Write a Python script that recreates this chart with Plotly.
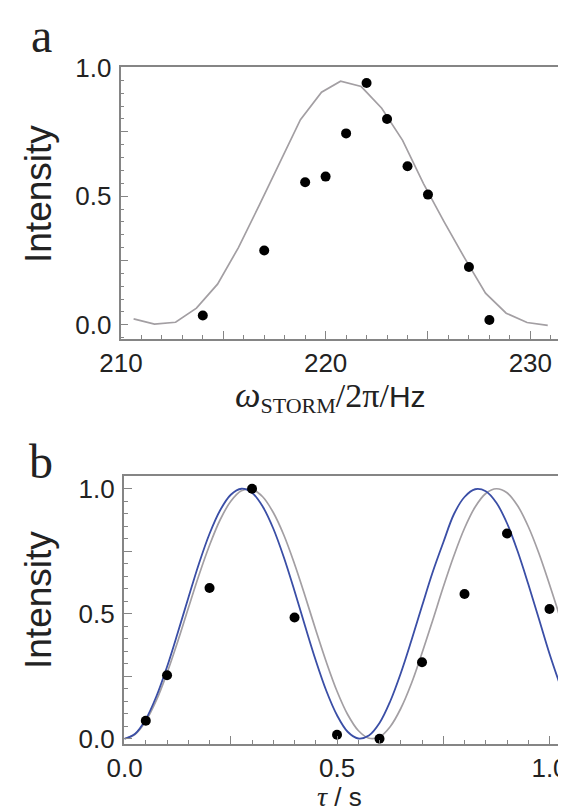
import plotly.graph_objects as go

# ---------------- Panel a data ----------------
omega_pts = [214, 217, 219, 220, 221, 222, 223, 224, 225, 227, 228]
intensity_a = [0.036, 0.289, 0.554, 0.576, 0.744, 0.94, 0.80, 0.616, 0.506, 0.225, 0.019]

omega_curve = [210.62, 211.64, 212.67, 213.69, 214.72, 215.74, 216.76, 217.77, 218.77,
               219.80, 220.73, 221.74, 222.74, 223.76, 224.78, 225.79, 226.80, 227.81,
               228.82, 229.84, 230.85]
curve_a = [0.023, 0.003, 0.010, 0.065, 0.158, 0.30, 0.465, 0.633, 0.797, 0.904, 0.947,
           0.926, 0.842, 0.717, 0.549, 0.40, 0.258, 0.123, 0.045, 0.009, -0.002]

# ---------------- Panel b data ----------------
tau_pts = [0.05, 0.1, 0.2, 0.3, 0.4, 0.5, 0.6, 0.7, 0.8, 0.9, 1.0]
intensity_b = [0.072, 0.254, 0.603, 1.0, 0.485, 0.016, 0.0, 0.306, 0.579, 0.821, 0.519]

tau_curve = [0.0, 0.025, 0.05, 0.075, 0.1, 0.125, 0.15, 0.175, 0.2, 0.225, 0.25, 0.275,
             0.3, 0.325, 0.35, 0.375, 0.4, 0.425, 0.45, 0.475, 0.5, 0.525, 0.55, 0.575,
             0.6, 0.625, 0.65, 0.675, 0.7, 0.725, 0.75, 0.775, 0.8, 0.825, 0.85, 0.875,
             0.9, 0.925, 0.95, 0.975, 1.0, 1.025]
blue_b = [0.0, 0.02, 0.078, 0.17, 0.288, 0.423, 0.563, 0.70, 0.82, 0.914, 0.976, 1.0,
          0.984, 0.929, 0.841, 0.725, 0.591, 0.45, 0.313, 0.191, 0.094, 0.028, 0.001,
          0.013, 0.063, 0.149, 0.262, 0.393, 0.531, 0.666, 0.785, 0.898, 0.967, 0.998,
          0.99, 0.944, 0.862, 0.75, 0.619, 0.48, 0.34, 0.214]
grey_b = [0.0, 0.018, 0.071, 0.154, 0.263, 0.388, 0.522, 0.654, 0.774, 0.876, 0.95, 0.992,
          0.998, 0.968, 0.905, 0.814, 0.699, 0.57, 0.435, 0.306, 0.19, 0.097, 0.033, 0.002,
          0.007, 0.048, 0.121, 0.221, 0.343, 0.473, 0.607, 0.732, 0.842, 0.927, 0.981, 1.0,
          0.984, 0.932, 0.849, 0.742, 0.617, 0.485]

ticks_a_x = [210, 215, 220, 225, 230]
ticklabels_a_x = ["210", "", "220", "", "230"]
ticks_b_x = [0.0, 0.25, 0.5, 0.75, 1.0]
ticklabels_b_x = ["0.0", "", "0.5", "", "1.0"]
ticks_y = [0.0, 0.25, 0.5, 0.75, 1.0]
ticklabels_y = ["0.0", "", "0.5", "", "1.0"]

GREY = "#a39fa3"
BLUE = "#3a4ea6"
FRAME = "#858585"
TXT = "#222222"
SANS = "Liberation Sans, Arial, sans-serif"
SERIF = "Liberation Serif, Times New Roman, serif"

fig = go.Figure()

# Panel a
fig.add_trace(go.Scatter(x=omega_curve, y=curve_a, mode="lines",
                         line=dict(color=GREY, width=1.7), xaxis="x", yaxis="y",
                         showlegend=False, hoverinfo="skip"))
fig.add_trace(go.Scatter(x=omega_pts, y=intensity_a, mode="markers",
                         marker=dict(color="black", size=10), xaxis="x", yaxis="y",
                         showlegend=False))
# Panel b
fig.add_trace(go.Scatter(x=tau_curve, y=grey_b, mode="lines", line_shape="spline",
                         line=dict(color=GREY, width=1.7), xaxis="x2", yaxis="y2",
                         showlegend=False, hoverinfo="skip"))
fig.add_trace(go.Scatter(x=tau_curve, y=blue_b, mode="lines", line_shape="spline",
                         line=dict(color=BLUE, width=1.8), xaxis="x2", yaxis="y2",
                         showlegend=False, hoverinfo="skip"))
fig.add_trace(go.Scatter(x=tau_pts, y=intensity_b, mode="markers",
                         marker=dict(color="black", size=10), xaxis="x2", yaxis="y2",
                         showlegend=False))

W, H = 566, 812


def common_axis(**kw):
    d = dict(showline=True, mirror=True, linecolor=FRAME, linewidth=1.6,
             showgrid=False, zeroline=False, automargin=False,
             ticks="inside", ticklen=8, tickwidth=1.2,
             tickcolor=FRAME, tickfont=dict(family=SANS, size=26, color=TXT))
    d.update(kw)
    return d


fig.update_layout(
    template="none",
    width=W, height=H,
    margin=dict(l=0, r=0, t=0, b=0, pad=0, autoexpand=False),
    paper_bgcolor="white", plot_bgcolor="white",
    showlegend=False,
    xaxis=common_axis(domain=[112.5 / W, 551 / W], range=[209.98, 231.4], anchor="y",
                      tickvals=ticks_a_x, ticktext=ticklabels_a_x,
                      minor=dict(dtick=1, tick0=210, ticks="inside", ticklen=4,
                                 tickcolor=FRAME, tickwidth=1)),
    yaxis=common_axis(domain=[1 - 330.7 / H, 1 - 59 / H], range=[-0.054, 1.002], anchor="x",
                      tickvals=ticks_y, ticktext=ticklabels_y, ticklabelstandoff=2,
                      minor=dict(dtick=0.05, tick0=0, ticks="inside", ticklen=4,
                                 tickcolor=FRAME, tickwidth=1)),
    xaxis2=common_axis(domain=[115.7 / W, 551.7 / W], range=[-0.002, 1.024], anchor="y2",
                       tickvals=ticks_b_x, ticktext=ticklabels_b_x,
                       minor=dict(dtick=0.05, tick0=0, ticks="inside", ticklen=4,
                                  tickcolor=FRAME, tickwidth=1)),
    yaxis2=common_axis(domain=[1 - 736 / H, 1 - 468 / H], range=[-0.021, 1.051], anchor="x2",
                       tickvals=ticks_y, ticktext=ticklabels_y, ticklabelstandoff=2,
                       minor=dict(dtick=0.05, tick0=0, ticks="inside", ticklen=4,
                                  tickcolor=FRAME, tickwidth=1)),
)


def a_(text, x, y, size, family=SANS, angle=0):
    return dict(text=text, x=x / W, y=1 - y / H, xref="paper", yref="paper",
                xanchor="center", yanchor="middle", showarrow=False, textangle=angle,
                font=dict(family=family, size=size, color=TXT))


ann = [
    a_("a", 33, 28, 48, SERIF),
    a_("b", 33, 453, 48, SERIF),
    a_("Intensity", 30, 186, 37, angle=-90),
    a_("Intensity", 30, 592, 37, angle=-90),
]
title_a = ("<span style='font-family:Liberation Serif;font-size:36px'><i>ω</i></span>"
           "<sub><span style='font-family:Liberation Serif;font-size:22px'>STORM</span></sub>"
           "<span style='font-family:Liberation Serif;font-size:34px'>/2π/</span>Hz")
ann.append(a_(title_a, 322, 388, 30))
title_b = ("<span style='font-family:Liberation Serif;font-size:28px'><i>τ</i></span> / s")
ann.append(a_(title_b, 332, 788, 26))

fig.update_layout(annotations=ann)

fig.write_html("out.html")
